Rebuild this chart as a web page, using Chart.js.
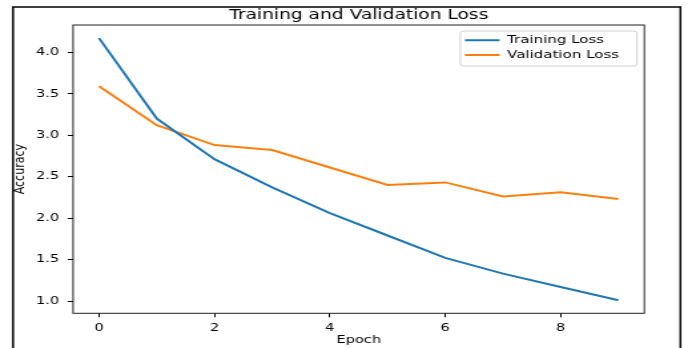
<!DOCTYPE html>
<html>
<head>
<meta charset="utf-8">
<script src="https://cdn.jsdelivr.net/npm/chart.js@4.4.1/dist/chart.umd.min.js"></script>
<style>
  html, body { margin: 0; padding: 0; background: #fff; }
  /* the source picture is stretched sideways, so the canvas is drawn narrow and widened by css */
  #lossChart { width: 688px !important; height: 348px !important; display: block; }
</style>
</head>
<body>
<canvas id="lossChart" width="517" height="348"></canvas>
<script>
  /* values */
  const epochs = [0, 1, 2, 3, 4, 5, 6, 7, 8, 9];
  const trainingLoss = [4.17, 3.20, 2.71, 2.37, 2.06, 1.79, 1.52, 1.33, 1.17, 1.01];
  const validationLoss = [3.59, 3.12, 2.88, 2.82, 2.61, 2.40, 2.43, 2.26, 2.31, 2.23];
  const xTicks = [0, 2, 4, 6, 8];
  const yTicks = [1.0, 1.5, 2.0, 2.5, 3.0, 3.5, 4.0];

  /* axis limits the matplotlib way: data range + 5% each side */
  const allY = trainingLoss.concat(validationLoss);
  const yLo = Math.min(...allY), yHi = Math.max(...allY);
  const yPad = (yHi - yLo) * 0.05;
  const xPad = (epochs[epochs.length - 1] - epochs[0]) * 0.05;

  const toPoints = arr => epochs.map((e, i) => ({ x: e, y: arr[i] }));

  Chart.defaults.font.family = "'DejaVu Sans', sans-serif";
  Chart.defaults.color = '#000';

  /* outer frame, plot box and legend frame */
  const framePlugin = {
    id: 'frames',
    beforeDraw(chart) {
      const ctx = chart.ctx;
      const a = chart.chartArea;

      // put the legend in the top right corner of the plot
      const lg = chart.legend;
      const w = 132.8, h = 35;
      lg.left = a.right - w - 5.5;
      lg.top = a.top + 6;
      lg.right = lg.left + w;
      lg.bottom = lg.top + h + 1;
      lg.width = w;
      lg.height = h + 1;

      ctx.save();
      ctx.strokeStyle = '#000';
      ctx.lineWidth = 1.5;
      ctx.beginPath();
      ctx.moveTo(9.8, chart.height + 2);
      ctx.lineTo(9.8, 7);
      ctx.lineTo(511.3, 7);
      ctx.lineTo(511.3, chart.height + 2);
      ctx.stroke();

      ctx.fillStyle = 'rgba(255,255,255,0.8)';
      ctx.strokeStyle = '#d0d0d0';
      ctx.lineWidth = 1;
      ctx.beginPath();
      if (ctx.roundRect) ctx.roundRect(lg.left, lg.top, w, h, 2.5);
      else ctx.rect(lg.left, lg.top, w, h);
      ctx.fill();
      ctx.stroke();
      ctx.restore();
    },
    afterDraw(chart) {
      const a = chart.chartArea;
      const ctx = chart.ctx;
      ctx.save();
      ctx.strokeStyle = '#222';
      ctx.lineWidth = 1;
      ctx.strokeRect(a.left, a.top, a.right - a.left, a.bottom - a.top);
      ctx.restore();
    }
  };

  const ctx = document.getElementById('lossChart').getContext('2d');

  new Chart(ctx, {
    type: 'line',
    data: {
      datasets: [
        {
          label: 'Training Loss',
          data: toPoints(trainingLoss),
          borderColor: '#1f77b4',
          backgroundColor: '#1f77b4',
          borderWidth: 2,
          pointRadius: 0,
          tension: 0,
          fill: false
        },
        {
          label: 'Validation Loss',
          data: toPoints(validationLoss),
          borderColor: '#ff7f0e',
          backgroundColor: '#ff7f0e',
          borderWidth: 2,
          pointRadius: 0,
          tension: 0,
          fill: false
        }
      ]
    },
    options: {
      responsive: false,
      animation: false,
      devicePixelRatio: 1,
      layout: { padding: { left: 0, top: 0, bottom: 0, right: 32.8 } },
      scales: {
        x: {
          type: 'linear',
          min: epochs[0] - xPad,
          max: epochs[epochs.length - 1] + xPad,
          afterBuildTicks: s => { s.ticks = xTicks.map(v => ({ value: v })); },
          afterFit: s => { s.height = 34.7; },
          grid: { drawOnChartArea: false, drawTicks: true, tickLength: 4, color: '#000' },
          border: { display: false },
          ticks: {
            autoSkip: false,
            maxRotation: 0,
            padding: 4,
            font: { size: 11 },
            callback: v => String(v)
          },
          title: {
            display: true,
            text: 'Epoch',
            font: { size: 11 },
            padding: { top: 0, bottom: 1.5 }
          }
        },
        y: {
          min: yLo - yPad,
          max: yHi + yPad,
          afterBuildTicks: s => { s.ticks = yTicks.map(v => ({ value: v })); },
          afterFit: s => { s.width = 54.9; },
          grid: { drawOnChartArea: false, drawTicks: true, tickLength: 4, color: '#000' },
          border: { display: false },
          ticks: {
            autoSkip: false,
            padding: 6.3,
            font: { size: 11 },
            callback: v => v.toFixed(1)
          },
          title: {
            display: true,
            text: 'Accuracy',
            font: { size: 11 },
            padding: { top: 9, bottom: 0 }
          }
        }
      },
      plugins: {
        title: {
          display: true,
          text: 'Training and Validation Loss',
          fullSize: false,
          font: { size: 14, weight: 'normal' },
          padding: { top: 6.8, bottom: 1.4 }
        },
        legend: {
          position: 'chartArea',
          align: 'start',
          labels: {
            usePointStyle: true,
            pointStyle: 'line',
            pointStyleWidth: 26,
            padding: 3.5,
            font: { size: 11.3 },
            color: '#000'
          }
        },
        tooltip: { enabled: false }
      }
    },
    plugins: [framePlugin]
  });
</script>
</body>
</html>
